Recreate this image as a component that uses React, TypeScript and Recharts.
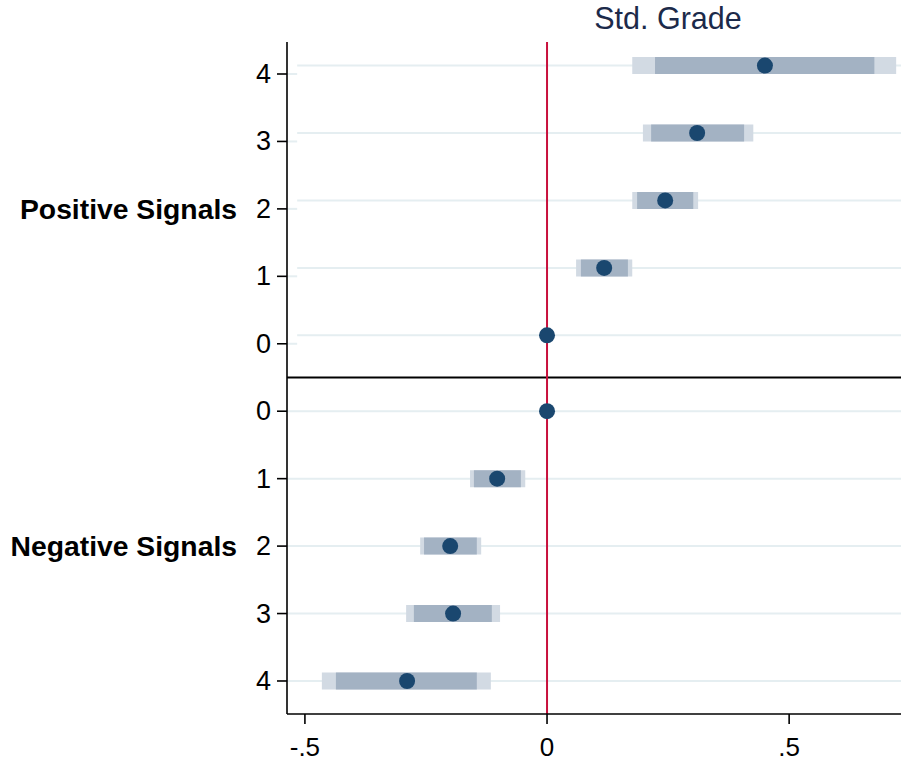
import React from 'react';
import { ScatterChart, Scatter, XAxis, YAxis, ErrorBar, ReferenceLine } from 'recharts';

// ---- data ----
const positiveLevels = ['4', '3', '2', '1', '0'];
const negativeLevels = ['0', '1', '2', '3', '4'];

const positiveEstimate = [0.45, 0.31, 0.244, 0.118, 0];
const positiveLow95 = [0.176, 0.198, 0.176, 0.06, 0];
const positiveHigh95 = [0.721, 0.426, 0.312, 0.176, 0];
const positiveLow90 = [0.223, 0.215, 0.186, 0.07, 0];
const positiveHigh90 = [0.676, 0.407, 0.302, 0.167, 0];

const negativeEstimate = [0, -0.103, -0.2, -0.194, -0.289];
const negativeLow95 = [0, -0.159, -0.262, -0.291, -0.465];
const negativeHigh95 = [0, -0.045, -0.136, -0.097, -0.116];
const negativeLow90 = [0, -0.151, -0.254, -0.275, -0.436];
const negativeHigh90 = [0, -0.054, -0.145, -0.114, -0.145];

const groupLabels = ['Positive Signals', 'Negative Signals'];
const xTickValues = [-0.5, 0, 0.5];
const xTickLabels = ['-.5', '0', '.5'];
const title = 'Std. Grade';

// ---- layout constants ----
const X_DOMAIN: [number, number] = [-0.537, 0.731];
const Y_DOMAIN: [number, number] = [-0.4745, 9.4895];
const POS_SHIFT = 0.125; // positive panel markers sit slightly above their ticks
const GRID_START = -0.516;
const FONT = '"Liberation Sans", Arial, Helvetica, sans-serif';

const yTickLabels = [...positiveLevels, ...negativeLevels];
const yTickValues = yTickLabels.map((_, i) => i);

type Row = { x: number; y: number; e95: [number, number]; e90: [number, number]; tick: number; shifted: boolean };

const rows: Row[] = [
  ...positiveEstimate.map((v, i) => ({
    x: v,
    y: i - POS_SHIFT,
    e95: [v - positiveLow95[i], positiveHigh95[i] - v] as [number, number],
    e90: [v - positiveLow90[i], positiveHigh90[i] - v] as [number, number],
    tick: i,
    shifted: true,
  })),
  ...negativeEstimate.map((v, i) => ({
    x: v,
    y: i + 5,
    e95: [v - negativeLow95[i], negativeHigh95[i] - v] as [number, number],
    e90: [v - negativeLow90[i], negativeHigh90[i] - v] as [number, number],
    tick: i + 5,
    shifted: false,
  })),
];

const GRID = '#e5eef1';

function YTick(props: any) {
  const { x, y, payload } = props;
  const i = payload.value as number;
  const group = i === 2 ? groupLabels[0] : i === 7 ? groupLabels[1] : null;
  return (
    <g>
      <text x={x} y={y} textAnchor="end" dominantBaseline="central" fontSize={27} fill="#000" fontFamily={FONT}>
        {yTickLabels[i]}
      </text>
      {group && (
        <text x={x - 34} y={y} textAnchor="end" dominantBaseline="central" fontSize={28.3} fontWeight="bold" fill="#000" fontFamily={FONT}>
          {group}
        </text>
      )}
    </g>
  );
}

function Dot(props: any) {
  const { cx, cy } = props;
  return <circle cx={cx} cy={cy} r={8} fill="#1a476f" />;
}

export default function App() {
  return (
    <div style={{ position: 'absolute', left: 0, top: 0, width: 901, height: 763, background: '#fff' }}>
      <div
        style={{
          position: 'absolute',
          left: 668,
          top: 1,
          transform: 'translateX(-50%)',
          fontFamily: FONT,
          fontSize: 30.5,
          color: '#1c2a4a',
          whiteSpace: 'nowrap',
          lineHeight: '35px',
        }}
      >
        {title}
      </div>
      <ScatterChart width={901} height={763} margin={{ top: 42, right: 0, bottom: 0, left: 0 }}>
        <XAxis
          type="number"
          dataKey="x"
          domain={X_DOMAIN}
          allowDataOverflow
          ticks={xTickValues}
          tickFormatter={(v: number) => xTickLabels[xTickValues.indexOf(v)] ?? String(v)}
          height={49}
          tickSize={10}
          tickMargin={14}
          stroke="#000"
          strokeWidth={1.6}
          tick={{ fontSize: 26, fill: '#000', fontFamily: FONT }}
        />
        <YAxis
          type="number"
          dataKey="y"
          domain={Y_DOMAIN}
          allowDataOverflow
          reversed
          ticks={yTickValues}
          interval={0}
          width={287}
          tickSize={10}
          tickMargin={6}
          stroke="#000"
          strokeWidth={1.6}
          tick={<YTick />}
        />
        {rows.map((r) =>
          r.shifted ? (
            <ReferenceLine
              key={'g' + r.tick}
              segment={[
                { x: GRID_START, y: r.y },
                { x: X_DOMAIN[1], y: r.y },
              ]}
              stroke={GRID}
              strokeWidth={2}
            />
          ) : (
            <ReferenceLine key={'g' + r.tick} y={r.y} stroke={GRID} strokeWidth={2} />
          )
        )}
        {rows
          .filter((r) => r.shifted)
          .map((r) => (
            <ReferenceLine
              key={'s' + r.tick}
              segment={[
                { x: X_DOMAIN[0], y: r.tick },
                { x: GRID_START, y: r.tick },
              ]}
              stroke={GRID}
              strokeWidth={2}
            />
          ))}
        <ReferenceLine y={4.5} stroke="#000" strokeWidth={2} />
        <ReferenceLine x={0} stroke="#c8103c" strokeWidth={2} />
        <Scatter data={rows} shape={<Dot />} isAnimationActive={false}>
          <ErrorBar dataKey="e95" direction="x" width={0} stroke="#d2dae3" strokeWidth={17} isAnimationActive={false} />
          <ErrorBar dataKey="e90" direction="x" width={0} stroke="#a3b2c3" strokeWidth={17} isAnimationActive={false} />
        </Scatter>
      </ScatterChart>
    </div>
  );
}
